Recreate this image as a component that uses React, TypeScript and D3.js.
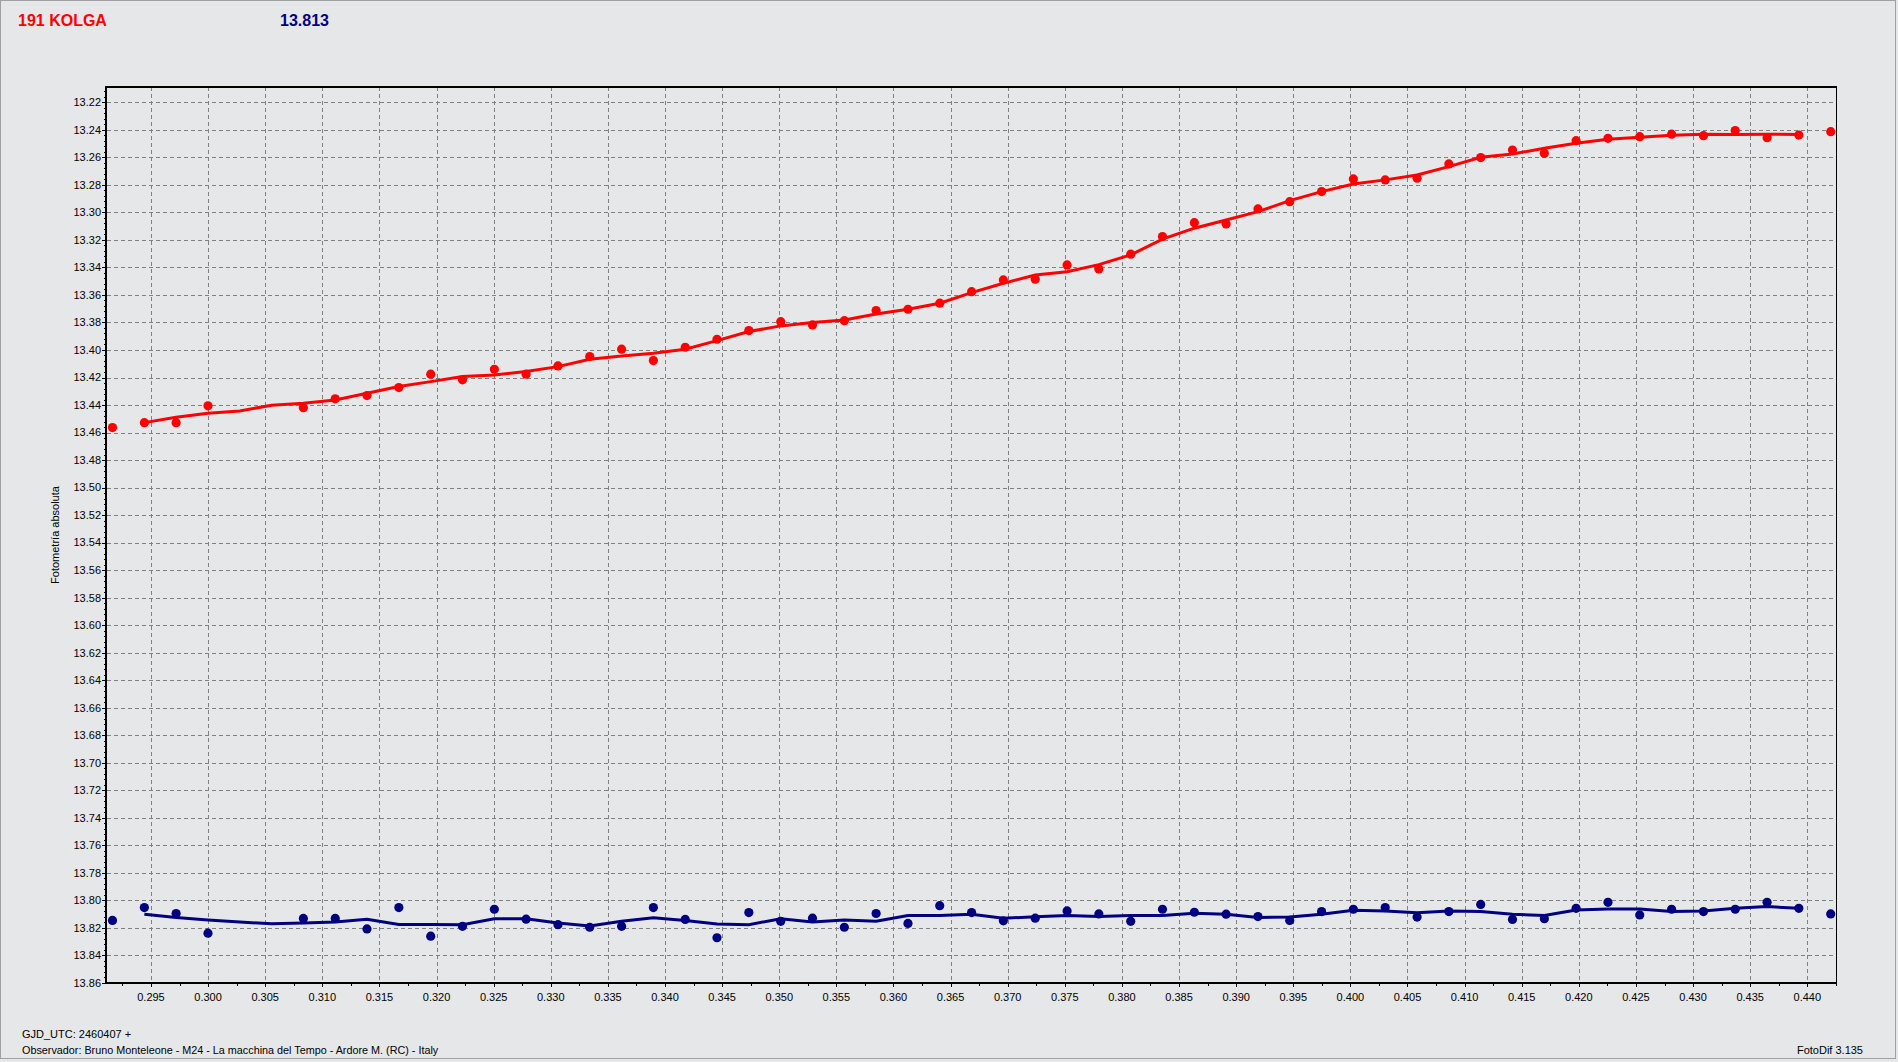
import React from 'react';
import * as d3 from 'd3';

// ---- data ----
const titleLeft = '191 KOLGA';
const titleRight = '13.813';
const yAxisTitle = 'Fotometría absoluta';
const footerLine1 = 'GJD_UTC: 2460407 +';
const footerLine2 = 'Observador: Bruno Monteleone - M24 - La macchina del Tempo - Ardore M. (RC) - Italy';
const footerRight = 'FotoDif 3.135';

const times = [
  0.29163, 0.29442, 0.29720, 0.29999, 0.30834, 0.31113, 0.31391, 0.31670, 0.31949, 0.32227,
  0.32506, 0.32784, 0.33063, 0.33341, 0.33620, 0.33898, 0.34177, 0.34455, 0.34734, 0.35013,
  0.35291, 0.35570, 0.35848, 0.36127, 0.36405, 0.36684, 0.36962, 0.37241, 0.37520, 0.37798,
  0.38077, 0.38355, 0.38634, 0.38912, 0.39191, 0.39469, 0.39748, 0.40026, 0.40305, 0.40584,
  0.40862, 0.41141, 0.41419, 0.41698, 0.41976, 0.42255, 0.42533, 0.42812, 0.43091, 0.43369,
  0.43648, 0.43926, 0.44205,
];

const kolgaMag = [
  13.4564, 13.4528, 13.4528, 13.4406, 13.4419, 13.4355, 13.4331, 13.4273, 13.4176, 13.4217,
  13.4140, 13.4176, 13.4116, 13.4048, 13.3994, 13.4077, 13.3980, 13.3922, 13.3859, 13.3794,
  13.3818, 13.3787, 13.3714, 13.3704, 13.3660, 13.3576, 13.3491, 13.3486, 13.3382, 13.3411,
  13.3304, 13.3176, 13.3075, 13.3084, 13.2975, 13.2922, 13.2849, 13.2757, 13.2764, 13.2752,
  13.2648, 13.2602, 13.2547, 13.2571, 13.2479, 13.2462, 13.2450, 13.2432, 13.2443, 13.2406,
  13.2457, 13.2438, 13.2414,
];

const compMag = [
  13.8145, 13.8052, 13.8095, 13.8238, 13.8131, 13.8131, 13.8207, 13.8052, 13.8260, 13.8188,
  13.8064, 13.8136, 13.8176, 13.8195, 13.8188, 13.8052, 13.8138, 13.8271, 13.8088, 13.8152,
  13.8129, 13.8195, 13.8095, 13.8167, 13.8038, 13.8088, 13.8148, 13.8129, 13.8076, 13.8098,
  13.8152, 13.8064, 13.8086, 13.8100, 13.8117, 13.8145, 13.8081, 13.8064, 13.8052, 13.8121,
  13.8081, 13.8029, 13.8138, 13.8133, 13.8057, 13.8014, 13.8105, 13.8064, 13.8081, 13.8064,
  13.8014, 13.8057, 13.8098,
];

const fitTimes = [
  0.29442, 0.29720, 0.29999, 0.30277, 0.30556, 0.30834, 0.31113, 0.31391, 0.31670, 0.31949,
  0.32227, 0.32506, 0.32784, 0.33063, 0.33341, 0.33620, 0.33898, 0.34177, 0.34455, 0.34734,
  0.35013, 0.35291, 0.35570, 0.35848, 0.36127, 0.36405, 0.36684, 0.36962, 0.37241, 0.37520,
  0.37798, 0.38077, 0.38355, 0.38634, 0.38912, 0.39191, 0.39469, 0.39748, 0.40026, 0.40305,
  0.40584, 0.40862, 0.41141, 0.41419, 0.41698, 0.41976, 0.42255, 0.42533, 0.42812, 0.43091,
  0.43369, 0.43648, 0.43926,
];

const kolgaFit = [
  13.4528, 13.4489, 13.4460, 13.4443, 13.4401, 13.4387, 13.4363, 13.4314, 13.4266, 13.4230,
  13.4193, 13.4181, 13.4157, 13.4121, 13.4067, 13.4043, 13.4024, 13.3994, 13.3932, 13.3866,
  13.3825, 13.3801, 13.3782, 13.3738, 13.3704, 13.3660, 13.3583, 13.3515, 13.3455, 13.3431,
  13.3380, 13.3309, 13.3195, 13.3115, 13.3055, 13.2995, 13.2915, 13.2849, 13.2794, 13.2764,
  13.2728, 13.2668, 13.2600, 13.2576, 13.2534, 13.2498, 13.2469, 13.2454, 13.2440, 13.2432,
  13.2435, 13.2432, 13.2435,
];

const compFit = [
  13.8100, 13.8124, 13.8143, 13.8157, 13.8169, 13.8164, 13.8157, 13.8136, 13.8174, 13.8174,
  13.8176, 13.8133, 13.8133, 13.8164, 13.8186, 13.8152, 13.8126, 13.8145, 13.8171, 13.8176,
  13.8133, 13.8157, 13.8143, 13.8152, 13.8110, 13.8110, 13.8100, 13.8129, 13.8119, 13.8110,
  13.8117, 13.8110, 13.8110, 13.8093, 13.8100, 13.8124, 13.8121, 13.8100, 13.8071, 13.8076,
  13.8090, 13.8076, 13.8081, 13.8100, 13.8110, 13.8069, 13.8062, 13.8062, 13.8081, 13.8076,
  13.8057, 13.8045, 13.8057,
];

const yTickValues = [
  13.22, 13.24, 13.26, 13.28, 13.30, 13.32, 13.34, 13.36, 13.38, 13.40, 13.42,
  13.44, 13.46, 13.48, 13.50, 13.52, 13.54, 13.56, 13.58, 13.60, 13.62, 13.64,
  13.66, 13.68, 13.70, 13.72, 13.74, 13.76, 13.78, 13.80, 13.82, 13.84, 13.86,
];

const xTickValues = [
  0.295, 0.300, 0.305, 0.310, 0.315, 0.320, 0.325, 0.330, 0.335, 0.340,
  0.345, 0.350, 0.355, 0.360, 0.365, 0.370, 0.375, 0.380, 0.385, 0.390,
  0.395, 0.400, 0.405, 0.410, 0.415, 0.420, 0.425, 0.430, 0.435, 0.440,
];

const xDomain = [0.29115, 0.4426];
const yDomain = [13.2089, 13.86];

// ---- layout ----
const W = 1898;
const H = 1062;
const PL = 107;
const PR = 1837;
const PT = 87;
const PB = 983;
const BG = '#e6e7e9';
const RED = '#ff0000';
const NAVY = '#000080';
const FONT = '"Liberation Sans", Arial, sans-serif';

export default function App() {
  const x = d3.scaleLinear().domain(xDomain).range([PL, PR]);
  const y = d3.scaleLinear().domain(yDomain).range([PT, PB]);

  const line = d3
    .line<[number, number]>()
    .x((d) => x(d[0]))
    .y((d) => y(d[1]));

  const redPath = line(fitTimes.map((t, i) => [t, kolgaFit[i]]) as [number, number][]) || '';
  const bluePath = line(fitTimes.map((t, i) => [t, compFit[i]]) as [number, number][]) || '';

  const yMinor = d3.range(13.212, 13.8601, 0.004);
  const xMinor = d3.range(0.2925, 0.4427, 0.0025);

  return (
    <div style={{ position: 'absolute', left: 0, top: 0 }}>
      <svg width={W} height={H} style={{ display: 'block' }} fontFamily={FONT}>
        <rect x={0} y={0} width={W} height={H} fill={BG} />
        <rect x={0.5} y={0.5} width={1895} height={1058} fill="none" stroke="#a0a0a0" strokeWidth={1} />

        {/* titles */}
        <text x={18} y={26} fontSize={16} fontWeight="bold" fill={RED}>{titleLeft}</text>
        <text x={280} y={26} fontSize={16} fontWeight="bold" fill={NAVY}>{titleRight}</text>

        {/* grid */}
        <g stroke="#808080" strokeWidth={1} strokeDasharray="4,3">
          {yTickValues.map((v) => (
            <line key={'gy' + v} x1={PL} x2={PR} y1={Math.round(y(v)) + 0.5} y2={Math.round(y(v)) + 0.5} />
          ))}
          {xTickValues.map((v) => (
            <line key={'gx' + v} x1={Math.round(x(v)) + 0.5} x2={Math.round(x(v)) + 0.5} y1={PT} y2={PB} />
          ))}
        </g>

        {/* ticks */}
        <g stroke="#000" strokeWidth={1}>
          {yMinor.map((v, i) => (
            <line key={'ym' + i} x1={PL - 3} x2={PL} y1={Math.round(y(v)) + 0.5} y2={Math.round(y(v)) + 0.5} />
          ))}
          {yTickValues.map((v) => (
            <line key={'yt' + v} x1={PL - 5} x2={PL} y1={Math.round(y(v)) + 0.5} y2={Math.round(y(v)) + 0.5} />
          ))}
          {xMinor.map((v, i) => (
            <line key={'xm' + i} x1={Math.round(x(v)) + 0.5} x2={Math.round(x(v)) + 0.5} y1={PB} y2={PB + 3} />
          ))}
          {xTickValues.map((v) => (
            <line key={'xt' + v} x1={Math.round(x(v)) + 0.5} x2={Math.round(x(v)) + 0.5} y1={PB} y2={PB + 4} />
          ))}
        </g>

        {/* tick labels */}
        <g fontSize={11} fill="#000">
          {yTickValues.map((v) => (
            <text key={'yl' + v} x={PL - 6} y={y(v)} dy="0.35em" textAnchor="end">
              {v.toFixed(2)}
            </text>
          ))}
          {xTickValues.map((v) => (
            <text key={'xl' + v} x={x(v)} y={1001} textAnchor="middle">
              {v.toFixed(3)}
            </text>
          ))}
        </g>

        <text
          transform={`translate(59,${(PT + PB) / 2}) rotate(-90)`}
          textAnchor="middle"
          fontSize={11}
          fill="#000"
        >
          {yAxisTitle}
        </text>

        {/* series */}
        <path d={redPath} fill="none" stroke={RED} strokeWidth={3} />
        <path d={bluePath} fill="none" stroke={NAVY} strokeWidth={3} />
        {times.map((t, i) => (
          <circle key={'r' + i} cx={x(t)} cy={y(kolgaMag[i])} r={4.6} fill={RED} />
        ))}
        {times.map((t, i) => (
          <circle key={'b' + i} cx={x(t)} cy={y(compMag[i])} r={4.6} fill={NAVY} />
        ))}

        {/* frame */}
        <line x1={PL} x2={PR} y1={PT} y2={PT} stroke="#000" strokeWidth={2} />
        <line x1={PR - 0.5} x2={PR - 0.5} y1={PT} y2={PB} stroke="#000" strokeWidth={1} />
        <line x1={PL - 1} x2={PL - 1} y1={PT - 1} y2={PB + 1} stroke="#000" strokeWidth={2} />
        <line x1={PL - 1} x2={PR} y1={PB} y2={PB} stroke="#000" strokeWidth={2} />

        {/* footer */}
        <text x={22} y={1038} fontSize={11} fill="#000">{footerLine1}</text>
        <text x={22} y={1054} fontSize={10.8} fill="#000">{footerLine2}</text>
        <text x={1863} y={1054} fontSize={11} textAnchor="end" fill="#000">{footerRight}</text>
      </svg>
    </div>
  );
}
